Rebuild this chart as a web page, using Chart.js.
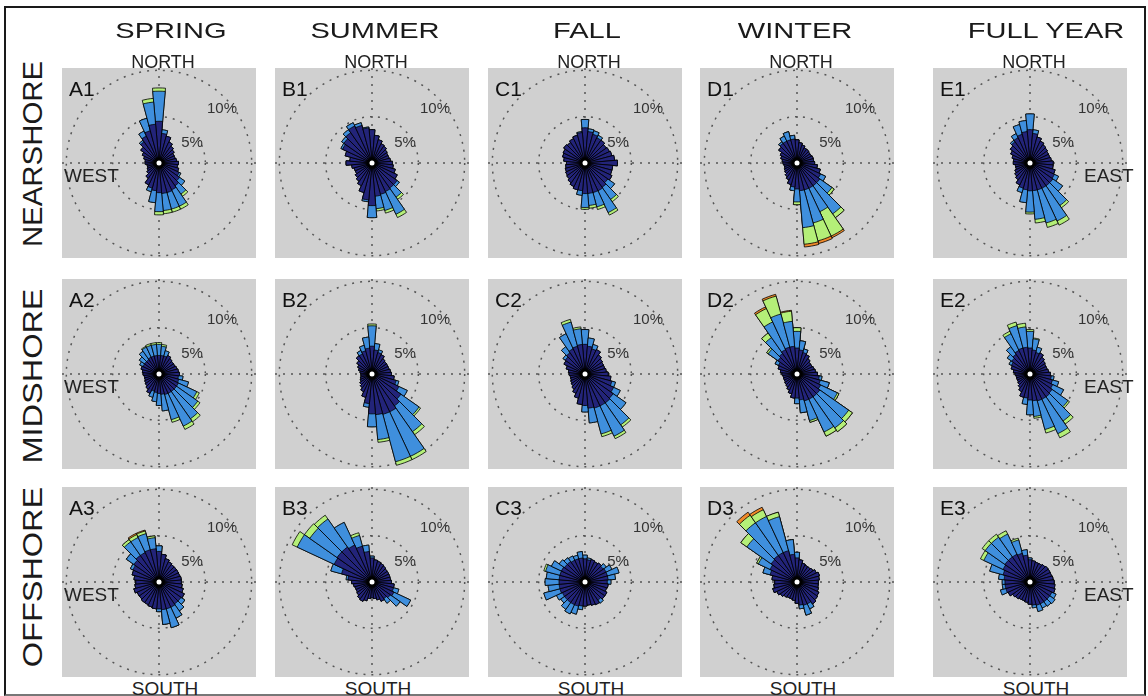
<!DOCTYPE html>
<html>
<head>
<meta charset="utf-8">
<script src="https://cdn.jsdelivr.net/npm/chart.js@4.4.1/dist/chart.umd.min.js"></script>
<style>
  html, body { margin: 0; padding: 0; background: #fff; }
  body { width: 1148px; height: 696px; position: relative; overflow: hidden;
         font-family: Arial, "Liberation Sans", sans-serif; }
  .marco { position: absolute; left: 4px; top: 6px; width: 1142px; height: 690px; box-sizing: border-box;
           border-left: 2px solid #1a1a1a; border-top: 2px solid #1a1a1a; border-right: 2px solid #1a1a1a;
           border-bottom: 2px solid #777; }
  canvas { position: absolute; background: #d0d0d0; }
  .txt { position: absolute; line-height: 1; white-space: nowrap; color: #1a1a1a; }
</style>
</head>
<body>
<div class="marco"></div>
<script>
// direcciones (grados, desde el norte en sentido horario)
const DIRECCIONES = [0,10,20,30,40,50,60,70,80,90,100,110,120,130,140,150,160,170,
                     180,190,200,210,220,230,240,250,260,270,280,290,300,310,320,330,340,350];

const ESTACIONES = ["SPRING", "SUMMER", "FALL", "WINTER", "FULL YEAR"];
const ZONAS = ["NEARSHORE", "MIDSHORE", "OFFSHORE"];

// % de ocurrencia por clase de velocidad (navy = lento, blue, green, orange = rapido)
const A1_navy  = [4.5,3.2,3.0,2.5,2.2,2.0,1.8,1.8,1.9,2.1,2.0,2.2, 2.4,2.7,3.0,3.2,3.3,3.3,3.2,3.0,2.8,2.6,2.0,1.6, 1.4,1.3,1.3,1.5,1.5,1.7,2.0,2.4,2.8,3.2,3.6,4.2];
const A1_blue  = [3.25,0.4,0,0,0,0,0,0,0,0,0,0, 0.2,0.7,1.1,1.95,1.85,1.85,2.05,1.3,0.4,0,0,0, 0,0,0,0,0,0,0,0,0.2,0.6,1.4,2.4];
const A1_green = [0.35,0,0,0,0,0,0,0,0,0,0,0, 0,0,0.3,0.35,0.35,0.35,0.35,0,0,0,0,0, 0,0,0,0,0,0,0,0,0,0,0,0.4];

const B1_navy  = [3.6,3.0,2.6,2.3,2.2,2.0,1.9,1.9,2.0,2.2,2.3,2.6, 3.0,3.3,3.3,3.4,3.5,3.6,4.6,4.0,3.3,2.7,2.4,2.2, 2.0,2.0,2.2,2.8,2.4,3.0,3.5,3.7,4.0,4.4,4.2,3.8];
const B1_blue  = [0,0,0,0,0,0,0,0,0,0,0,0, 0,0.3,1.2,2.7,1.8,1.35,1.3,0.2,0,0,0,0, 0,0,0,0,0,0,0.2,0.3,0.4,0.4,0.3,0.1];
const B1_green = [0,0,0,0,0,0,0,0,0,0,0,0, 0,0,0.3,0.4,0.3,0.25,0,0,0,0,0,0, 0,0,0,0,0,0,0,0,0,0,0,0];

const C1_navy  = [3.8,3.4,3.2,3.0,3.0,2.8,2.9,3.0,3.2,3.5,3.0,3.0, 3.2,3.0,3.2,3.3,3.3,3.3,3.3,3.0,3.0,2.8,2.6,2.4, 2.3,2.2,2.1,2.0,2.3,2.5,2.6,2.8,2.7,2.9,3.1,3.3];
const C1_blue  = [0.9,0.3,0.4,0.3,0,0,0,0,0,0,0,0, 0,0.9,1.6,2.6,1.6,1.3,1.5,0.5,0,0,0,0, 0,0,0,0,0,0,0,0,0,0,0,0.1];
const C1_green = [0,0,0,0,0,0,0,0,0,0,0,0, 0,0,0.3,0.3,0.3,0.3,0.2,0,0,0,0,0, 0,0,0,0,0,0,0,0,0,0,0,0];

const D1_navy   = [2.5,2.2,2.0,1.8,1.8,1.7,1.7,1.8,1.8,1.9,2.2,2.6, 2.8,3.0,3.0,3.0,3.0,3.0,2.8,2.6,2.4,2.0,1.8,1.6, 1.5,1.4,1.4,1.5,1.6,1.8,2.0,2.4,2.6,2.6,2.6,2.6];
const D1_blue   = [0,0,0,0,0,0,0,0,0,0,0,0, 0.6,1.6,3.7,2.8,3.7,4.0,1.4,0.4,0,0,0,0, 0,0,0,0,0,0,0,0,0.2,0.6,0.9,0.4];
const D1_green  = [0,0,0,0,0,0,0,0,0,0,0,0, 0,0.3,0.5,2.9,2.0,1.8,0.3,0,0,0,0,0, 0,0,0,0,0,0,0,0,0,0,0,0];
const D1_orange = [0,0,0,0,0,0,0,0,0,0,0,0, 0,0,0,0.2,0.3,0.3,0,0,0,0,0,0, 0,0,0,0,0,0,0,0,0,0,0,0];

const E1_navy  = [3.6,3.2,2.9,2.6,2.4,2.3,2.2,2.2,2.3,2.5,2.5,2.8, 2.9,3.0,3.0,3.0,3.0,3.0,3.0,2.9,2.8,2.6,2.2,2.0, 1.8,1.6,1.6,1.8,1.8,2.0,2.3,2.6,2.8,3.0,3.2,3.4];
const E1_blue  = [1.7,0.4,0,0,0,0,0,0,0,0,0,0, 0.5,1.3,2.6,3.9,3.7,3.1,2.3,1.4,0.5,0,0,0, 0,0,0,0,0,0,0,0,0.2,0.5,1.1,1.2];
const E1_green = [0,0,0,0,0,0,0,0,0,0,0,0, 0,0,0.3,0.5,0.5,0.4,0.2,0,0,0,0,0, 0,0,0,0,0,0,0,0,0,0,0,0];

const A2_navy  = [2.0,2.0,2.0,2.2,2.0,1.9,1.9,2.0,2.1,2.2,2.1,2.2, 2.3,2.3,2.3,2.3,2.3,2.2,2.1,2.0,1.9,2.3,2.0,1.8, 1.7,1.6,1.6,1.7,1.8,2.0,1.9,1.9,1.9,2.0,2.0,2.0];
const A2_blue  = [1.2,1.0,0.6,0,0,0,0,0,0,0,0.5,1.1, 2.2,2.8,3.6,3.9,2.8,1.8,1.3,1.0,0.7,0,0,0, 0,0,0,0,0,0,0.4,0.7,1.1,1.2,1.2,1.2];
const A2_green = [0.2,0.2,0,0,0,0,0,0,0,0,0,0, 0.3,0.3,0.4,0.4,0.3,0,0,0,0,0,0,0, 0,0,0,0,0,0,0,0,0,0.1,0.2,0.2];

const B2_navy  = [3.0,2.6,2.4,2.3,2.0,1.9,1.9,1.9,2.0,2.1,2.4,2.7, 3.2,3.8,4.2,4.5,4.5,4.4,4.3,3.2,2.6,2.1,1.8,1.6, 1.4,1.3,1.2,1.2,1.3,1.5,1.7,2.0,2.4,2.4,2.6,2.8];
const B2_blue  = [2.2,0.7,0.3,0,0,0,0,0,0,0,0,0.3, 1.0,2.4,3.4,5.3,5.3,2.7,1.4,0.4,0,0,0,0, 0,0,0,0,0,0,0,0,0,0.4,0.6,1.2];
const B2_green = [0.2,0,0,0,0,0,0,0,0,0,0,0, 0,0.2,0.4,0.4,0.4,0.3,0,0,0,0,0,0, 0,0,0,0,0,0,0,0,0,0,0,0];

const C2_navy  = [3.2,3.0,2.8,2.9,2.5,2.3,2.2,2.2,2.3,2.5,2.8,3.0, 3.4,3.7,3.8,3.8,3.8,3.7,3.4,3.3,2.7,2.3,2.0,1.8, 1.7,1.6,1.6,1.7,1.8,2.1,2.5,2.6,2.8,3.0,3.1,3.2];
const C2_blue  = [1.6,0.9,0.5,0,0,0,0,0,0,0,0,0.4, 0.8,1.7,2.9,3.6,2.9,1.6,0.7,0,0,0,0,0, 0,0,0,0,0,0,0,0.3,0.8,1.8,2.7,1.7];
const C2_green = [0,0,0,0,0,0,0,0,0,0,0,0, 0,0,0.3,0.3,0.3,0,0,0,0,0,0,0, 0,0,0,0,0,0,0,0,0,0,0.3,0.2];

const D2_navy   = [2.8,2.6,2.4,2.3,2.0,1.8,1.8,1.9,2.0,2.2,2.4,2.6, 2.8,3.0,3.0,3.0,3.0,2.8,2.6,2.6,2.2,1.9,1.7,1.6, 1.5,1.5,1.5,1.6,1.8,2.1,2.2,2.5,2.7,2.9,3.0,3.0];
const D2_blue   = [1.8,1.0,0.4,0,0,0,0,0,0,0,0.3,1.0, 2.0,3.8,4.1,3.9,2.2,1.4,0.6,0,0,0,0,0, 0,0,0,0,0,0,0.4,1.3,2.1,3.3,3.7,2.7];
const D2_green  = [0.4,0,0,0,0,0,0,0,0,0,0,0, 0.2,0.5,0.5,0.5,0.2,0,0,0,0,0,0,0, 0,0,0,0,0,0,0,0.2,0.6,1.6,2.0,1.1];
const D2_orange = [0,0,0,0,0,0,0,0,0,0,0,0, 0,0,0,0,0,0,0,0,0,0,0,0, 0,0,0,0,0,0,0,0,0,0.2,0.2,0.1];

const E2_navy  = [2.8,2.6,2.4,2.5,2.2,2.0,1.9,1.9,2.0,2.2,2.3,2.5, 2.7,2.9,3.0,3.0,3.0,2.9,2.8,2.6,2.6,2.1,1.8,1.6, 1.5,1.5,1.5,1.6,1.8,2.1,2.2,2.4,2.6,2.8,2.9,2.9];
const E2_blue  = [1.8,1.2,0.6,0,0,0,0,0,0,0,0.3,0.7, 1.3,2.1,3.2,4.1,3.2,1.7,1.6,0.7,0,0,0,0, 0,0,0,0,0,0,0.3,0.6,1.0,2.0,2.5,2.2];
const E2_green = [0.2,0.1,0,0,0,0,0,0,0,0,0,0, 0,0.2,0.4,0.5,0.4,0.2,0,0,0,0,0,0, 0,0,0,0,0,0,0,0,0,0.3,0.4,0.4];

const A3_navy   = [3.3,3.0,2.6,2.4,2.3,2.3,2.3,2.3,2.4,2.4,2.5,2.7, 3.0,2.9,2.9,3.0,3.0,3.0,2.9,2.9,2.8,2.7,2.7,2.6, 2.6,2.8,2.6,2.5,2.7,3.0,3.1,3.3,3.5,3.5,3.6,3.6];
const A3_blue   = [0.6,0,0,0,0,0,0,0,0,0,0,0, 0,0.5,0.9,1.3,2.1,1.6,0.3,0,0,0,0,0, 0,0,0,0,0,0,0.3,1.0,1.8,1.8,1.8,1.2];
const A3_green  = [0,0,0,0,0,0,0,0,0,0,0,0, 0,0,0,0,0,0,0,0,0,0,0,0, 0,0,0,0,0,0,0,0,0.3,0.35,0.3,0.2];
const A3_orange = [0,0,0,0,0,0,0,0,0,0,0,0, 0,0,0,0,0,0,0,0,0,0,0,0, 0,0,0,0,0,0,0,0,0,0.15,0.1,0];

const B3_navy  = [2.6,2.4,2.3,2.2,2.1,2.0,2.0,2.0,2.0,2.1,2.4,2.4, 2.6,2.4,2.2,2.3,2.0,1.8,1.7,1.8,2.1,2.3,2.2,2.0, 1.9,1.9,2.0,2.2,2.6,3.4,4.5,4.6,4.6,4.4,4.0,3.3];
const B3_blue  = [0.2,0,0,0,0,0,0,0,0,0,0,0.6, 2.0,1.3,0.6,0,0,0,0,0,0,0,0,0, 0,0,0,0,0.2,1.2,4.4,3.6,3.7,2.7,1.2,0.7];
const B3_green = [0,0,0,0,0,0,0,0,0,0,0,0, 0,0,0,0,0,0,0,0,0,0,0,0, 0,0,0,0,0,0,0.6,0.7,0.5,0,0.3,0];

const C3_navy  = [2.5,2.4,2.5,2.4,2.5,2.4,2.5,2.5,2.5,2.4,2.5,2.4, 2.6,2.6,2.4,2.7,2.6,2.5,2.6,2.6,2.7,2.7,2.7,2.7, 2.7,2.8,2.8,2.8,2.8,2.8,2.8,2.7,2.7,2.6,2.6,2.6];
const C3_blue  = [0.4,0.2,0,0,0,0.4,0.7,1.3,0.8,0.4,0,0, 0,0,0.4,0,0,0,0,0.4,0.9,1.1,0.9,0.5, 0.7,1.8,1.2,1.5,1.4,1.6,1.2,0.7,0.5,0.5,0.4,0.7];
const C3_green = [0,0,0,0,0,0,0,0,0,0,0,0, 0,0,0,0,0,0,0,0,0,0,0,0, 0,0,0,0,0,0.2,0,0,0,0,0,0];

const D3_navy   = [2.6,2.4,2.1,2.0,2.0,2.1,2.3,2.5,2.4,2.3,2.3,2.4, 2.6,2.7,2.9,2.6,2.6,2.5,2.3,2.0,1.9,1.9,2.0,2.2, 2.4,2.7,2.5,2.4,2.7,3.0,3.2,3.4,3.5,3.5,3.5,3.0];
const D3_blue   = [0.6,0,0,0,0,0,0,0,0,0,0,0, 0,0,0,0.6,1.1,0.4,0,0,0,0,0,0, 0,0,0,0,0,0.8,1.4,3.2,4.3,4.3,3.8,1.6];
const D3_green  = [0,0,0,0,0,0,0,0,0,0,0,0, 0,0,0,0,0,0,0,0,0,0,0,0, 0,0,0,0,0,0,0.2,0.8,1.0,0.8,0.5,0];
const D3_orange = [0,0,0,0,0,0,0,0,0,0,0,0, 0,0,0,0,0,0,0,0,0,0,0,0, 0,0,0,0,0,0,0,0,0.4,0.3,0,0];

const E3_navy  = [2.4,2.3,2.2,2.2,2.3,2.4,2.4,2.4,2.5,2.6,2.7,2.8, 2.6,2.6,2.6,2.6,2.6,2.5,2.4,2.2,2.1,2.1,2.2,2.3, 2.6,2.7,2.7,2.7,2.8,3.0,3.2,3.3,3.3,3.3,3.2,2.9];
const E3_blue  = [0.2,0,0,0,0,0,0,0,0,0,0,0, 0.5,0.7,0.6,0.5,0.7,0.3,0,0,0,0,0,0, 0,0.6,0.3,0.3,0.6,1.5,2.3,2.6,2.6,2.4,1.5,0.6];
const E3_green = [0,0,0,0,0,0,0,0,0,0,0,0, 0,0,0,0,0,0,0,0,0,0,0,0, 0,0,0,0,0,0,0.4,0.4,0.4,0.4,0.2,0];

const PANELES = [
  { id: "A1", col: 0, fila: 0, capas: [A1_navy, A1_blue, A1_green] },
  { id: "B1", col: 1, fila: 0, capas: [B1_navy, B1_blue, B1_green] },
  { id: "C1", col: 2, fila: 0, capas: [C1_navy, C1_blue, C1_green] },
  { id: "D1", col: 3, fila: 0, capas: [D1_navy, D1_blue, D1_green, D1_orange] },
  { id: "E1", col: 4, fila: 0, capas: [E1_navy, E1_blue, E1_green] },
  { id: "A2", col: 0, fila: 1, capas: [A2_navy, A2_blue, A2_green] },
  { id: "B2", col: 1, fila: 1, capas: [B2_navy, B2_blue, B2_green] },
  { id: "C2", col: 2, fila: 1, capas: [C2_navy, C2_blue, C2_green] },
  { id: "D2", col: 3, fila: 1, capas: [D2_navy, D2_blue, D2_green, D2_orange] },
  { id: "E2", col: 4, fila: 1, capas: [E2_navy, E2_blue, E2_green] },
  { id: "A3", col: 0, fila: 2, capas: [A3_navy, A3_blue, A3_green, A3_orange] },
  { id: "B3", col: 1, fila: 2, capas: [B3_navy, B3_blue, B3_green] },
  { id: "C3", col: 2, fila: 2, capas: [C3_navy, C3_blue, C3_green] },
  { id: "D3", col: 3, fila: 2, capas: [D3_navy, D3_blue, D3_green, D3_orange] },
  { id: "E3", col: 4, fila: 2, capas: [E3_navy, E3_blue, E3_green] }
];

const COLORES = ["#23247a", "#3f8fdd", "#b4ef78", "#f0892a"];
const R_MAX = 10.25;

// --- layout ---
const COL_X = [62, 275, 488, 700, 933];
const FILA_Y = [68, 279, 487];
const ANCHO = 194, ALTO = 190;
const TITULO_X = [171, 375, 587, 795, 1046];
const ZONA_Y = [154, 376, 577];
const ZONA_ESCALA = [1.05, 1.16, 1.16];

function texto(t, x, y, estilo) {
    const d = document.createElement("div");
    d.className = "txt";
    d.textContent = t;
    Object.assign(d.style, { left: x + "px", top: y + "px" }, estilo);
    document.body.appendChild(d);
    return d;
}

// apilar capas: cada dataset es el acumulado hasta esa capa
function acumular(capas) {
    let acc = DIRECCIONES.map(() => 0);
    return capas.map(c => {
        acc = acc.map((v, i) => +(v + c[i]).toFixed(3));
        return acc;
    });
}

const cruz = {
    id: "cruz",
    beforeDatasetsDraw(chart) {
        const s = chart.scales.r, a = chart.chartArea, ctx = chart.ctx;
        ctx.save();
        ctx.strokeStyle = "#555";
        ctx.lineWidth = 1.5;
        ctx.setLineDash([2, 6]);
        ctx.beginPath();
        ctx.moveTo(a.left, s.yCenter); ctx.lineTo(a.right, s.yCenter);
        ctx.moveTo(s.xCenter, a.top); ctx.lineTo(s.xCenter, a.bottom);
        ctx.stroke();
        ctx.restore();
    }
};

const centro = {
    id: "centro",
    afterDatasetsDraw(chart) {
        const s = chart.scales.r, ctx = chart.ctx;
        ctx.save();
        ctx.fillStyle = "#000";
        ctx.beginPath(); ctx.arc(s.xCenter, s.yCenter, 5.5, 0, Math.PI * 2); ctx.fill();
        ctx.fillStyle = "#fff";
        ctx.beginPath(); ctx.arc(s.xCenter, s.yCenter, 2.5, 0, Math.PI * 2); ctx.fill();
        ctx.restore();
    }
};

PANELES.forEach(p => {
    const x = COL_X[p.col], y = FILA_Y[p.fila];
    const cv = document.createElement("canvas");
    cv.width = ANCHO; cv.height = ALTO;
    cv.style.left = x + "px"; cv.style.top = y + "px";
    document.body.appendChild(cv);

    const acum = acumular(p.capas);
    new Chart(cv, {
        type: "polarArea",
        data: {
            labels: DIRECCIONES,
            datasets: acum.map((d, k) => ({
                data: d,
                backgroundColor: COLORES[k],
                borderColor: "#000",
                borderWidth: 0.8
            }))
        },
        options: {
            responsive: false,
            animation: false,
            layout: { padding: 0 },
            plugins: { legend: { display: false }, tooltip: { enabled: false } },
            scales: {
                r: {
                    min: 0, max: R_MAX, startAngle: -5,
                    ticks: { display: false, stepSize: 5, includeBounds: false },
                    grid: { circular: true, color: "#555", lineWidth: 1.5 },
                    border: { dash: [2, 6] },
                    angleLines: { display: false },
                    pointLabels: { display: false }
                }
            }
        },
        plugins: [cruz, centro]
    });

    const cx = x + ANCHO / 2, cy = y + ALTO / 2;
    texto(p.id, x + 7, y + 20, { fontSize: "21px", transform: "translateY(-50%)", color: "#111" });
    texto("10%", cx + 63, cy - 56, { fontSize: "15px", transform: "translate(-50%,-50%)", color: "#333" });
    texto("5%", cx + 33, cy - 22, { fontSize: "15px", transform: "translate(-50%,-50%)", color: "#333" });
    if (p.fila === 0) texto("NORTH", cx + 4, 61.5, { fontSize: "18px", transform: "translate(-50%,-50%)", color: "#222" });
    if (p.fila === 2) texto("SOUTH", cx + 6, 688, { fontSize: "19px", transform: "translate(-50%,-50%)", color: "#222" });
    if (p.col === 0) texto("WEST", x + 2, cy + 11.5, { fontSize: "19px", transform: "translateY(-50%)", color: "#222" });
    if (p.col === 4) texto("EAST", x + 151, cy + 12, { fontSize: "19px", transform: "translateY(-50%)", color: "#222" });
});

ESTACIONES.forEach((t, i) => {
    texto(t, TITULO_X[i], 31, { fontSize: "22px", transform: "translate(-50%,-50%) scaleX(1.32)" });
});
ZONAS.forEach((t, i) => {
    texto(t, 33, ZONA_Y[i], { fontSize: "28px", transform: "translate(-50%,-50%) rotate(-90deg) scaleX(" + ZONA_ESCALA[i] + ")" });
});
</script>
</body>
</html>
